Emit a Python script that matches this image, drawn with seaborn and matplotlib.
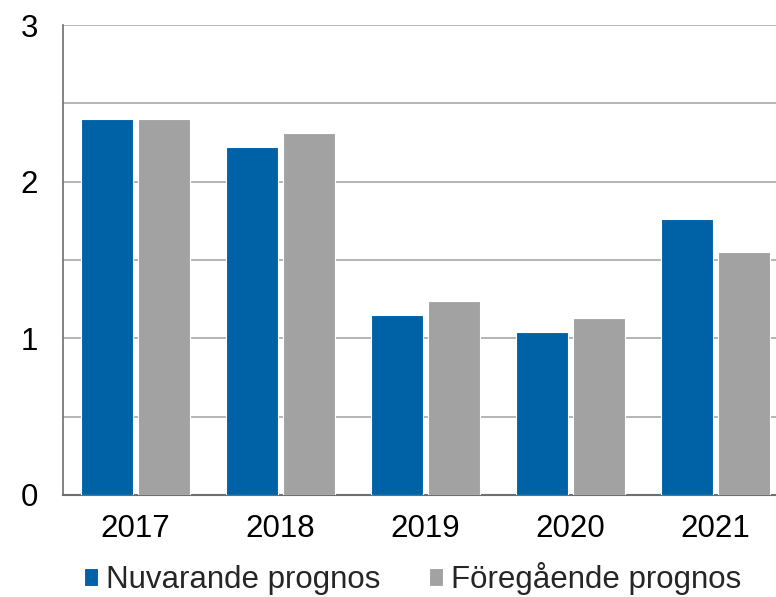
import pandas as pd
import matplotlib
matplotlib.use("Agg")
import matplotlib.pyplot as plt
import seaborn as sns

years = ["2017", "2018", "2019", "2020", "2021"]
nuvarande = [2.4, 2.22, 1.15, 1.04, 1.76]
foregaende = [2.4, 2.31, 1.24, 1.13, 1.55]
series_names = ["Nuvarande prognos", "Föregående prognos"]
colors = ["#0062A6", "#A2A2A2"]

df = pd.DataFrame({
    "year": years * 2,
    "value": nuvarande + foregaende,
    "serie": [series_names[0]] * len(years) + [series_names[1]] * len(years),
})

sns.set_style("white")
plt.rcParams["font.family"] = ["Liberation Sans", "DejaVu Sans"]

fig = plt.figure(figsize=(7.76, 5.97), dpi=100)
ax = fig.add_axes([0.0812, 0.171, 0.934, 0.787])

sns.barplot(data=df, x="year", y="value", hue="serie", palette=colors,
            width=0.78, gap=0.08, saturation=1, edgecolor="white", linewidth=0.8,
            ax=ax, zorder=3)

ax.set_ylim(0, 3)
ax.set_yticks([0, 1, 2, 3])
ax.set_yticks([0.5, 1.5, 2.5], minor=True)
ax.grid(axis="y", which="both", color="#B4B4B4", linewidth=1.4, zorder=0)
ax.set_axisbelow(True)
ax.tick_params(axis="both", which="both", length=0, labelsize=22.5, colors="black")
ax.tick_params(axis="y", pad=18)
ax.tick_params(axis="x", pad=14)
ax.set_xlabel("")
ax.set_ylabel("")
for side in ["top", "right"]:
    ax.spines[side].set_visible(False)
ax.spines["left"].set_color("#6E6E6E")
ax.spines["bottom"].set_color("#6E6E6E")
ax.spines["left"].set_linewidth(1.2)
ax.spines["bottom"].set_linewidth(1.5)

handles, labels = ax.get_legend_handles_labels()
ax.legend_.remove()
fig.legend(handles, labels, loc="center", bbox_to_anchor=(0.532, 0.031), ncol=2,
           frameon=False, fontsize=22.5, handlelength=0.45, handleheight=0.5,
           handletextpad=0.25, columnspacing=1.55, borderpad=0, borderaxespad=0)

fig.savefig("out.png", dpi=100)
